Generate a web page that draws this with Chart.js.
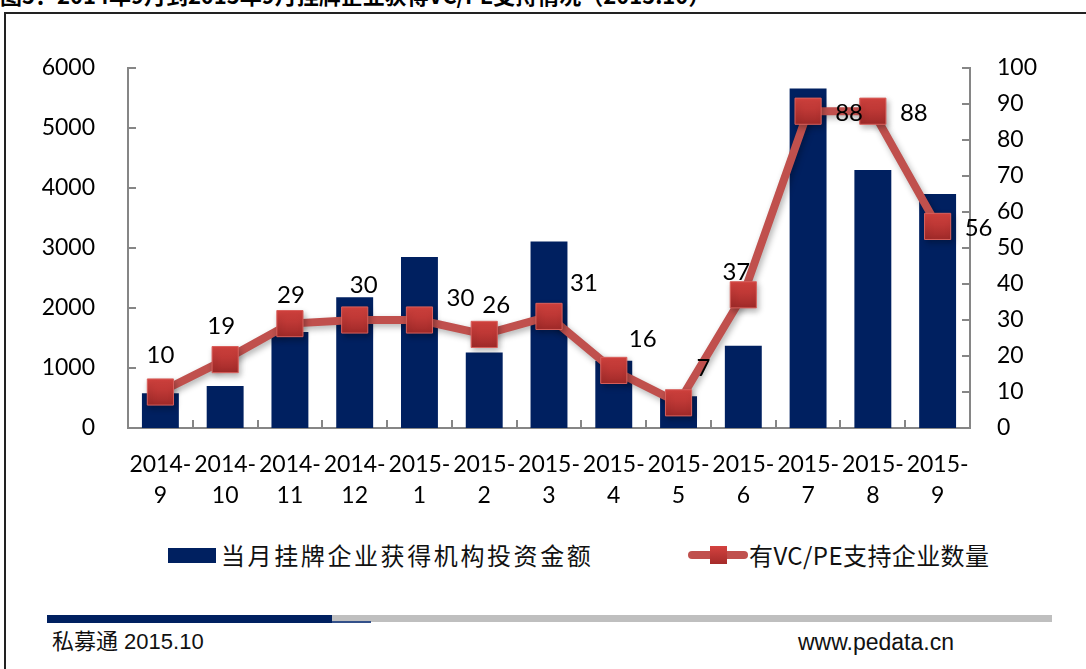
<!DOCTYPE html>
<html>
<head>
<meta charset="utf-8">
<script src="https://cdn.jsdelivr.net/npm/chart.js@4.4.1/dist/chart.umd.min.js"></script>
<style>
  html, body { margin: 0; padding: 0; background: #fff; overflow: hidden; }
  body { width: 1086px; height: 669px; position: relative; font-family: "Liberation Sans", "Noto Sans CJK SC", sans-serif; }
  .frame { position: absolute; left: 4px; top: 12px; width: 1100px; height: 700px; border: 2px solid #222; box-sizing: border-box; }
  .title { position: absolute; left: 0; top: -22px; font: bold 22px "Noto Sans CJK SC", sans-serif; white-space: nowrap; color: #000; }
  #chart { position: absolute; left: 0; top: 0; }
  .abs { position: absolute; white-space: nowrap; }
</style>
</head>
<body>
<div class="title">图5：2014年9月到2015年9月挂牌企业获得VC/PE支持情况（2015.10）</div>
<div class="frame"></div>
<canvas id="chart" width="1086" height="520"></canvas>

<!-- legend -->
<div class="abs" style="left:168px;top:548px;width:48px;height:15px;background:#002060;"></div>
<div class="abs" style="left:221px;top:538px;font:24px 'Noto Sans CJK SC';letter-spacing:2.6px;line-height:34px;color:#111;">当月挂牌企业获得机构投资金额</div>
<div class="abs" style="left:688px;top:551px;width:60px;height:8px;border-radius:4px;background:#c0504d;"></div>
<div class="abs" style="left:710px;top:546px;width:17px;height:18px;background:linear-gradient(#d4423f,#a52b2a);"></div>
<div class="abs" style="left:749px;top:538px;font:24px 'Noto Sans CJK SC';letter-spacing:0.4px;line-height:34px;color:#111;">有VC/PE支持企业数量</div>

<!-- footer -->
<div class="abs" style="left:332px;top:615px;width:720px;height:7px;background:#bfbfbf;"></div>
<div class="abs" style="left:47px;top:615px;width:285px;height:8px;background:#002060;"></div>
<div class="abs" style="left:332px;top:621px;width:39px;height:2px;background:#33508a;"></div>
<div class="abs" style="left:52px;top:627px;font:22px 'Liberation Sans','Noto Sans CJK SC';line-height:30px;color:#111;">私募通 2015.10</div>
<div class="abs" style="left:798px;top:627px;font:23px 'Liberation Sans';line-height:30px;color:#111;">www.pedata.cn</div>

<script>
// data
const months = [
  ['2014-', '9'], ['2014-', '10'], ['2014-', '11'], ['2014-', '12'],
  ['2015-', '1'], ['2015-', '2'], ['2015-', '3'], ['2015-', '4'], ['2015-', '5'],
  ['2015-', '6'], ['2015-', '7'], ['2015-', '8'], ['2015-', '9']
];
const investAmount = [580, 700, 1600, 2180, 2850, 1260, 3110, 1120, 530, 1370, 5660, 4300, 3900];
const vcpeCount = [10, 19, 29, 30, 30, 26, 31, 16, 7, 37, 88, 88, 56];

// label nudges (px) relative to each marker, as laid out in the original
const labelDx = [0, -4, 1, 9, 41, 12, 35, 29, 25, -7, 41, 41, 41];
const labelDy = [-37, -33, -28, -35, -22, -29, -33, -31, -35, -23, 2, 2, 2];

const axisGray = '#868686';
const tickFont = { family: 'Lato', size: 23 };

const inwardTicks = {
  id: 'inwardTicks',
  afterDraw(chart) {
    const { ctx, chartArea: a } = chart;
    const x = chart.scales.x, yl = chart.scales.y, yr = chart.scales.y1;
    ctx.save();
    ctx.strokeStyle = axisGray;
    ctx.lineWidth = 2;
    ctx.beginPath();
    for (let i = 1; i < months.length; i++) {
      const px = Math.round((x.getPixelForValue(i - 1) + x.getPixelForValue(i)) / 2);
      ctx.moveTo(px, a.bottom);
      ctx.lineTo(px, a.bottom - 8);
    }
    yl.ticks.forEach(t => {
      const py = Math.round(yl.getPixelForValue(t.value));
      ctx.moveTo(a.left, py);
      ctx.lineTo(a.left + 8, py);
    });
    yr.ticks.forEach(t => {
      const py = Math.round(yr.getPixelForValue(t.value));
      ctx.moveTo(a.right, py);
      ctx.lineTo(a.right - 8, py);
    });
    ctx.stroke();
    ctx.restore();
  }
};

const lineShadow = {
  id: 'lineShadow',
  beforeDatasetDraw(chart, args) {
    if (args.index !== 1) return;
    const ctx = chart.ctx;
    ctx.save();
    ctx.shadowColor = 'rgba(0,0,0,0.3)';
    ctx.shadowBlur = 6;
    ctx.shadowOffsetX = 2;
    ctx.shadowOffsetY = 3;
  },
  afterDatasetDraw(chart, args) {
    if (args.index !== 1) return;
    chart.ctx.restore();
  }
};

const pointLabels = {
  id: 'pointLabels',
  afterDatasetsDraw(chart) {
    const ctx = chart.ctx;
    const meta = chart.getDatasetMeta(1);
    ctx.save();
    ctx.font = '24px Lato';
    ctx.fillStyle = '#000';
    ctx.textAlign = 'center';
    ctx.textBaseline = 'middle';
    meta.data.forEach((pt, i) => {
      ctx.fillText(String(vcpeCount[i]), pt.x + labelDx[i], pt.y + labelDy[i]);
    });
    ctx.restore();
  }
};

function markerFill(c) {
  const el = c.element;
  if (!el || el.y === undefined || isNaN(el.y)) return '#c0403d';
  const g = c.chart.ctx.createLinearGradient(0, el.y - 13, 0, el.y + 13);
  g.addColorStop(0, '#d6433f');
  g.addColorStop(1, '#a02a29');
  return g;
}

new Chart(document.getElementById('chart'), {
  data: {
    labels: months,
    datasets: [
      {
        type: 'bar',
        label: '当月挂牌企业获得机构投资金额',
        data: investAmount,
        yAxisID: 'y',
        backgroundColor: '#002060',
        barPercentage: 0.57,
        categoryPercentage: 1,
        order: 2
      },
      {
        type: 'line',
        label: '有VC/PE支持企业数量',
        data: vcpeCount,
        yAxisID: 'y1',
        borderColor: '#c0504d',
        borderWidth: 8,
        tension: 0,
        pointStyle: 'rect',
        pointRadius: 18.5,
        pointHoverRadius: 18.5,
        pointBackgroundColor: markerFill,
        pointBorderColor: '#d9605c',
        pointBorderWidth: 1,
        order: 1
      }
    ]
  },
  options: {
    responsive: false,
    animation: false,
    layout: { padding: { top: 68, left: 0, right: 0, bottom: 0 } },
    plugins: {
      legend: { display: false },
      tooltip: { enabled: false }
    },
    scales: {
      x: {
        offset: true,
        grid: { display: false, drawTicks: false, tickLength: 0 },
        border: { display: true, color: axisGray, width: 2 },
        ticks: { color: '#000', font: { ...tickFont, lineHeight: 1.35 }, padding: 21, maxRotation: 0, autoSkip: false },
        afterFit(s) { s.height = 92; }
      },
      y: {
        position: 'left',
        min: 0, max: 6000,
        ticks: { stepSize: 1000, color: '#000', font: tickFont, padding: 33, callback: v => String(v) },
        grid: { display: false, drawTicks: false, tickLength: 0 },
        border: { display: true, color: axisGray, width: 2 },
        afterFit(s) { s.width = 128; }
      },
      y1: {
        position: 'right',
        min: 0, max: 100,
        ticks: { stepSize: 10, color: '#000', font: tickFont, padding: 27 },
        grid: { display: false, drawTicks: false, tickLength: 0 },
        border: { display: true, color: axisGray, width: 2 },
        afterFit(s) { s.width = 116; }
      }
    }
  },
  plugins: [inwardTicks, lineShadow, pointLabels]
});
</script>
</body>
</html>
